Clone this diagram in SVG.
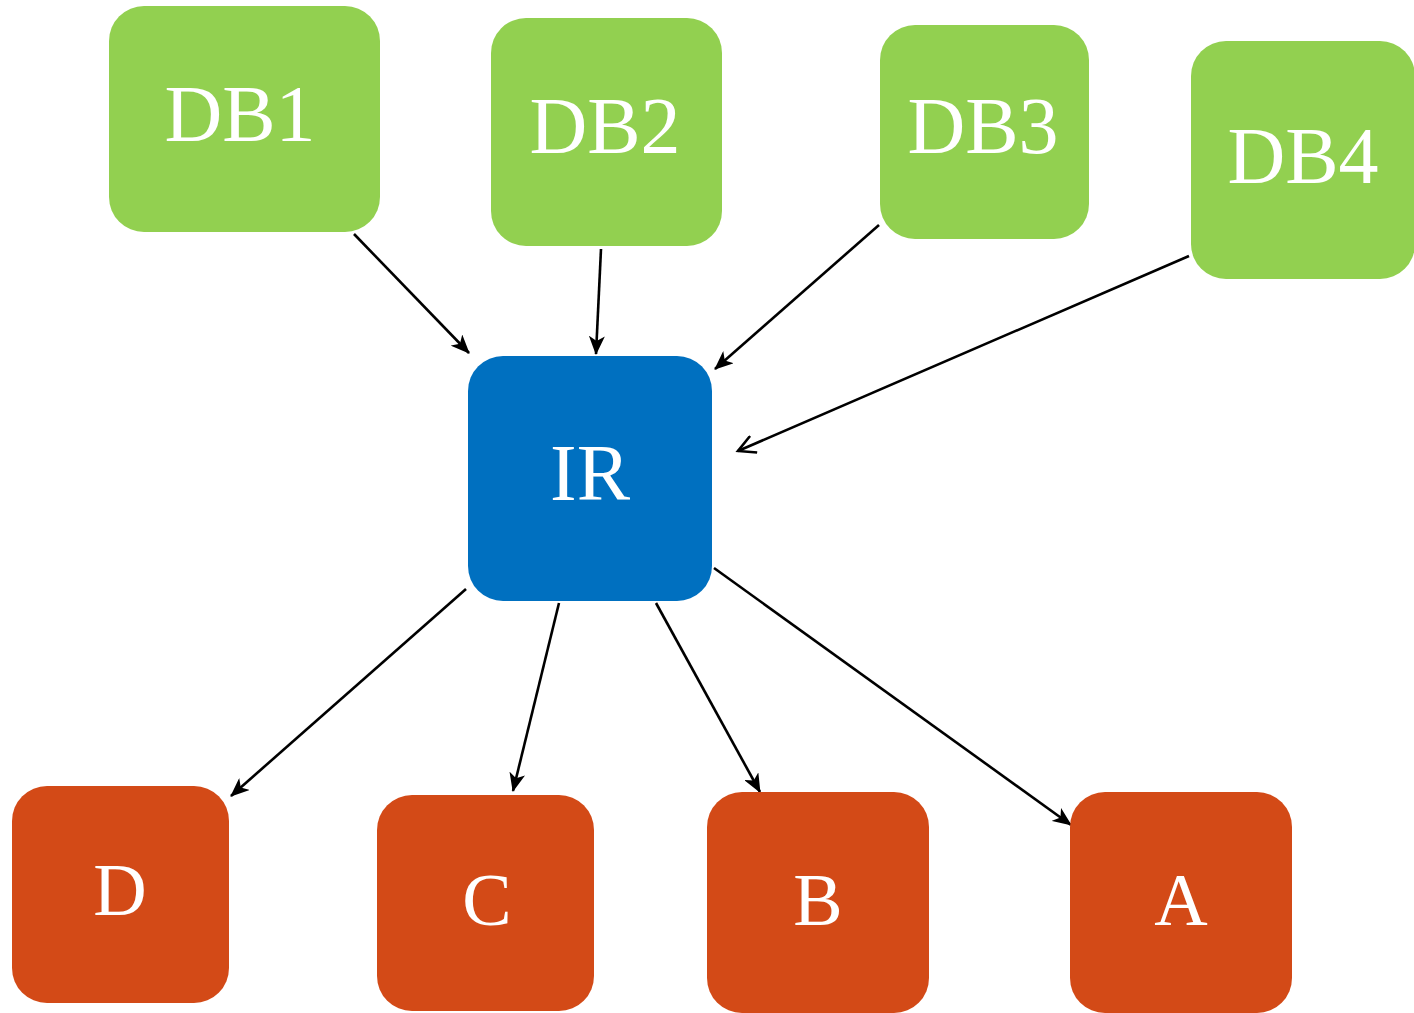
<svg xmlns="http://www.w3.org/2000/svg" width="1414" height="1013" viewBox="0 0 1414 1013">
<defs>
<style>
.db{fill:#92D050}
.ir{fill:#0070C0}
.out{fill:#D34A17}
.t{font-family:"Liberation Serif","Times New Roman",serif;fill:#fff;text-anchor:middle}
.big{font-size:80px}
.sm{font-size:74px}
.c{stroke:#000;stroke-width:2.6;fill:none}
</style>
<marker id="ah" markerUnits="userSpaceOnUse" markerWidth="20" markerHeight="16" refX="18" refY="8" orient="auto">
<path d="M0,0 L19,8 L0,16 L5,8 z" fill="#000"/>
</marker>
<marker id="av" markerUnits="userSpaceOnUse" markerWidth="22" markerHeight="20" refX="19" refY="10" orient="auto">
<path d="M2,1 L19,10 L2,19" fill="none" stroke="#000" stroke-width="2.6"/>
</marker>
</defs>
<rect width="1414" height="1013" fill="#fff"/>
<g id="connectors">
<line class="c" x1="354" y1="234" x2="469" y2="353" marker-end="url(#ah)"/>
<line class="c" x1="601" y1="249" x2="596" y2="354" marker-end="url(#ah)"/>
<line class="c" x1="879" y1="225" x2="715" y2="369" marker-end="url(#ah)"/>
<line class="c" x1="1189" y1="256" x2="738" y2="451" marker-end="url(#av)"/>
<line class="c" x1="466" y1="589" x2="231" y2="796" marker-end="url(#ah)"/>
<line class="c" x1="559" y1="603" x2="513" y2="791" marker-end="url(#ah)"/>
<line class="c" x1="656" y1="603" x2="760" y2="792" marker-end="url(#ah)"/>
<line class="c" x1="714" y1="568" x2="1071" y2="825" marker-end="url(#ah)"/>
</g>
<g id="DB1"><rect class="db" x="109" y="6" width="271" height="226" rx="35"/><text class="t big" x="240" y="141">DB1</text></g>
<g id="DB2"><rect class="db" x="491" y="18" width="231" height="228" rx="35"/><text class="t big" x="605" y="153">DB2</text></g>
<g id="DB3"><rect class="db" x="880" y="25" width="209" height="214" rx="35"/><text class="t big" x="983" y="153">DB3</text></g>
<g id="DB4"><rect class="db" x="1191" y="41" width="224" height="238" rx="35"/><text class="t big" x="1303" y="183">DB4</text></g>
<g id="IR"><rect class="ir" x="468" y="356" width="244" height="245" rx="35"/><text class="t big" x="590" y="500">IR</text></g>
<g id="D"><rect class="out" x="12" y="786" width="217" height="217" rx="35"/><text class="t sm" x="120" y="915">D</text></g>
<g id="C"><rect class="out" x="377" y="795" width="217" height="216" rx="35"/><text class="t sm" x="487" y="925">C</text></g>
<g id="B"><rect class="out" x="707" y="792" width="222" height="221" rx="35"/><text class="t sm" x="818" y="925">B</text></g>
<g id="A"><rect class="out" x="1070" y="792" width="222" height="221" rx="35"/><text class="t sm" x="1181" y="925">A</text></g>
</svg>
